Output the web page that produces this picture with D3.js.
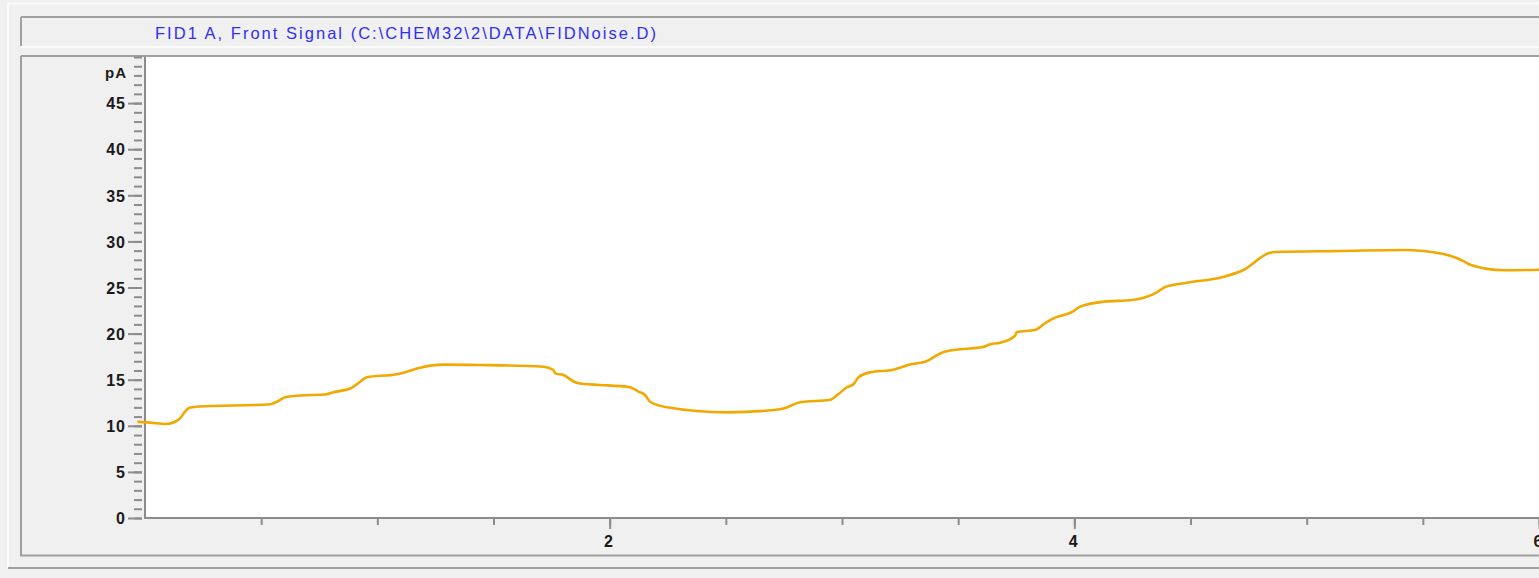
<!DOCTYPE html>
<html>
<head>
<meta charset="utf-8">
<script src="https://cdn.jsdelivr.net/npm/d3@7"></script>
<style>
  html, body { margin: 0; padding: 0; background: #f0f0f0; }
  svg { display: block; }
  text { font-family: Arial, "Liberation Sans", sans-serif; }
</style>
</head>
<body>
<svg id="chart" width="1539" height="578"></svg>
<script>
// FID detector trace: retention time (min) and signal (pA)
const timeMin = [-0.033, 0.022, 0.093, 0.129, 0.151, 0.172, 0.191, 0.223, 0.538, 0.567,
  0.603, 0.653, 0.782, 0.804, 0.890, 0.926, 0.954, 1.084, 1.127, 1.184,
  1.284, 1.442, 1.715, 1.758, 1.765, 1.801, 1.851, 1.887, 1.959, 2.088,
  2.124, 2.152, 2.174, 2.246, 2.504, 2.734, 2.820, 2.949, 2.985, 3.021,
  3.049, 3.071, 3.121, 3.221, 3.301, 3.358, 3.430, 3.508, 3.602, 3.638,
  3.681, 3.745, 3.752, 3.831, 3.874, 3.910, 3.989, 4.025, 4.125, 4.248,
  4.355, 4.391, 4.484, 4.635, 4.728, 4.836, 4.864, 5.144, 5.417, 5.589,
  5.675, 5.704, 5.847, 6.000];
const signalPA = [10.44, 10.34, 10.20, 10.44, 10.81, 11.53, 11.96, 12.07, 12.33, 12.61,
  13.09, 13.26, 13.42, 13.59, 14.13, 14.78, 15.26, 15.59, 15.87, 16.30,
  16.63, 16.59, 16.41, 16.05, 15.69, 15.51, 14.72, 14.53, 14.43, 14.18,
  13.70, 13.34, 12.61, 12.01, 11.46, 11.79, 12.55, 12.83, 13.45, 14.18,
  14.50, 15.26, 15.80, 16.08, 16.70, 16.95, 17.93, 18.30, 18.51, 18.84,
  19.01, 19.77, 20.17, 20.39, 21.12, 21.66, 22.32, 22.92, 23.46, 23.64,
  24.48, 25.05, 25.52, 26.11, 26.90, 28.71, 28.85, 28.96, 29.07, 28.63,
  27.87, 27.47, 26.87, 26.93];

const yTickLabels = [0, 5, 10, 15, 20, 25, 30, 35, 40, 45];
const xTickLabels = [2, 4, 6];
const yUnit = "pA";
const titleText = "FID1 A, Front Signal (C:\\CHEM32\\2\\DATA\\FIDNoise.D)";

const svg = d3.select("#chart");
const W = 1539, H = 578;

const plot = { left: 145, right: 1539, top: 57, bottom: 518 };

const x = d3.scaleLinear().domain([0, 6]).range([plot.left, plot.right]);
const y = d3.scaleLinear().domain([0, 50]).range([plot.bottom, plot.top]);

// window panels
const frameDark = "#a0a0a0";
const frameLight = "#fbfbfb";
const g = svg.append("g");

g.append("rect").attr("x", 0).attr("y", 0).attr("width", W).attr("height", H).attr("fill", "#f0f0f0");
g.append("line").attr("x1", 8).attr("x2", W).attr("y1", 3.5).attr("y2", 3.5).attr("stroke", frameLight).attr("stroke-width", 2);
g.append("line").attr("x1", 8).attr("x2", 8).attr("y1", 3.5).attr("y2", 568).attr("stroke", frameLight).attr("stroke-width", 2);

// title box
g.append("line").attr("x1", 21).attr("x2", W).attr("y1", 17).attr("y2", 17).attr("stroke", frameDark).attr("stroke-width", 2);
g.append("line").attr("x1", 21).attr("x2", 21).attr("y1", 17).attr("y2", 46).attr("stroke", frameDark).attr("stroke-width", 2);
g.append("line").attr("x1", 21).attr("x2", W).attr("y1", 47).attr("y2", 47).attr("stroke", frameLight).attr("stroke-width", 2);

svg.append("text")
  .attr("x", 155).attr("y", 38.5)
  .attr("fill", "#2f2ff2")
  .attr("font-size", 16.5)
  .attr("textLength", 501)
  .attr("lengthAdjust", "spacing")
  .text(titleText);

// plot box
g.append("line").attr("x1", 21).attr("x2", W).attr("y1", 56).attr("y2", 56).attr("stroke", frameDark).attr("stroke-width", 2);
g.append("line").attr("x1", 21).attr("x2", 21).attr("y1", 56).attr("y2", 556).attr("stroke", frameDark).attr("stroke-width", 2);
g.append("line").attr("x1", 20).attr("x2", W).attr("y1", 555.5).attr("y2", 555.5).attr("stroke", frameDark).attr("stroke-width", 2);
g.append("line").attr("x1", 8).attr("x2", W).attr("y1", 568).attr("y2", 568).attr("stroke", frameDark).attr("stroke-width", 2);

// white data area
svg.append("rect")
  .attr("x", plot.left).attr("y", plot.top)
  .attr("width", plot.right - plot.left).attr("height", plot.bottom - plot.top)
  .attr("fill", "#ffffff");

const labelStyle = s => s
  .attr("fill", "#1a1a1a").attr("font-size", 16).attr("font-weight", "bold")
  .attr("letter-spacing", 1)
  .attr("font-family", "Arial, 'Liberation Sans', sans-serif");

// y axis: minor ticks every 1 pA, major every 5
const yAxis = svg.append("g").attr("transform", `translate(${plot.left - 3},0)`);
yAxis.append("g")
  .call(d3.axisLeft(y).tickValues(d3.range(0, 51, 1)).tickSize(8).tickFormat(""))
  .call(s => s.select(".domain").remove())
  .call(s => s.selectAll("line").attr("stroke", "#8c8c8c").attr("stroke-width", 2));
yAxis.append("g")
  .call(d3.axisLeft(y).tickValues(yTickLabels).tickSize(14).tickPadding(2).tickFormat(d3.format("d")))
  .call(s => s.select(".domain").remove())
  .call(s => s.selectAll("line").attr("stroke", "#8c8c8c").attr("stroke-width", 2))
  .call(s => s.selectAll("text").call(labelStyle).attr("dy", "0.36em"));

svg.append("line")
  .attr("x1", plot.left).attr("x2", plot.left)
  .attr("y1", plot.top).attr("y2", plot.bottom + 1)
  .attr("stroke", "#8c8c8c").attr("stroke-width", 2);

svg.append("text")
  .attr("x", 127).attr("y", 78)
  .attr("text-anchor", "end")
  .call(labelStyle)
  .attr("font-size", 15)
  .text(yUnit);

// x axis: ticks every 0.5 min, labels on even minutes
const xAxis = svg.append("g").attr("transform", `translate(0,${plot.bottom + 1})`);
xAxis.append("g")
  .call(d3.axisBottom(x).tickValues(d3.range(0.5, 6.01, 0.5)).tickSize(6).tickFormat(""))
  .call(s => s.select(".domain").remove())
  .call(s => s.selectAll("line").attr("stroke", "#8c8c8c").attr("stroke-width", 2));
xAxis.append("g")
  .call(d3.axisBottom(x).tickValues(xTickLabels).tickSize(10).tickPadding(7).tickFormat(d3.format("d")))
  .call(s => s.select(".domain").remove())
  .call(s => s.selectAll("line").attr("stroke", "#8c8c8c").attr("stroke-width", 2))
  .call(s => s.selectAll("text").call(labelStyle).attr("letter-spacing", 0).attr("dx", "-0.1em"));

svg.append("line")
  .attr("x1", plot.left).attr("x2", plot.right)
  .attr("y1", plot.bottom).attr("y2", plot.bottom)
  .attr("stroke", "#8c8c8c").attr("stroke-width", 2);

// signal trace
const series = timeMin.map((t, i) => ({ t, v: signalPA[i] }));
svg.append("path")
  .datum(series)
  .attr("fill", "none")
  .attr("stroke", "#f2a800")
  .attr("stroke-width", 2.6)
  .attr("stroke-linejoin", "round")
  .attr("d", d3.line().x(d => x(d.t)).y(d => y(d.v)).curve(d3.curveMonotoneX));
</script>
</body>
</html>
